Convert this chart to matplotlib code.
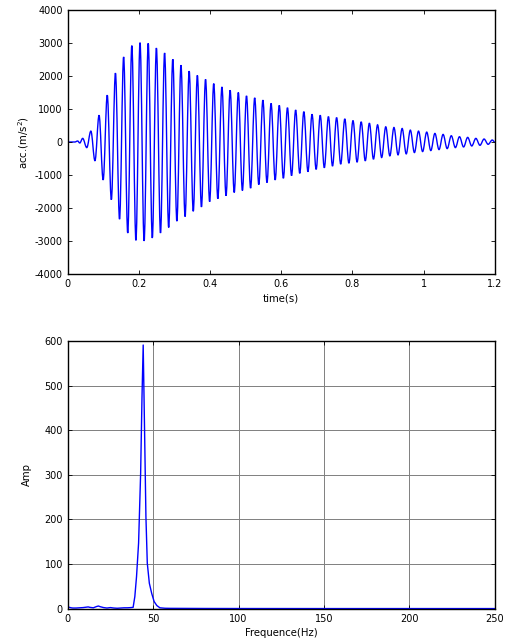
import numpy as np
import matplotlib
matplotlib.use("Agg")
import matplotlib.pyplot as plt
from matplotlib.path import Path
from matplotlib.patches import PathPatch

plt.rcParams['font.family'] = ['DejaVu Sans']
plt.rcParams['axes.unicode_minus'] = False

# ---------------- data: acceleration record (extrema) ----------------
onset_t = [0.0, 0.020, 0.028, 0.034]
onset_v = [0, 0, 30, -30]
first_peak_t = 0.0421      # time of first regular positive peak (s)
period = 0.02302           # oscillation period (s)
pos_peaks = [110, 330, 810, 1420, 2090, 2580, 2920, 3010, 2990, 2850, 2700, 2510,
             2330, 2150, 2020, 1900, 1770, 1670, 1570, 1500, 1400, 1340, 1270, 1170,
             1110, 1040, 970, 920, 840, 810, 770, 740, 700, 650, 610, 570, 520, 460,
             440, 410, 360, 330, 300, 260, 230, 190, 160, 140, 110, 90, 60]
neg_peaks = [-170, -570, -1150, -1750, -2340, -2760, -2980, -3000, -2910, -2760,
             -2590, -2400, -2260, -2100, -1970, -1810, -1720, -1630, -1530, -1470,
             -1400, -1290, -1230, -1150, -1100, -1020, -950, -900, -830, -780, -730,
             -670, -640, -610, -570, -520, -470, -420, -390, -360, -320, -290, -260,
             -230, -200, -170, -150, -120, -100, -70]
end_t = [1.2]
end_v = [0]

# ---------------- data: amplitude spectrum ----------------
freq = [0, 1, 2, 3, 5, 7, 9, 11, 12, 13, 15, 17, 18, 19, 21, 23, 25, 27, 29, 31, 33,
        35, 37, 38.3, 39.3, 40.3, 41.5, 42.7, 43.5, 44.2, 45.0, 45.8, 46.6, 47.8, 49.2,
        50.6, 52.2, 54, 57, 60, 80, 100, 150, 200, 250]
amp = [4, 3, 2, 1.5, 1.5, 2, 2.5, 3.5, 4, 3, 2, 5, 6, 4.5, 2.5, 1.5, 2.5, 1.5, 1, 1.5, 2,
       2, 2.5, 3, 27, 72, 147, 303, 475, 591, 400, 206, 102, 57, 34, 16, 7, 2, 1, 0.8,
       0.5, 0.4, 0.3, 0.3, 0.3]

# assemble the time series: alternating positive/negative extrema
ext_t, ext_v = [], []
for i, p in enumerate(pos_peaks):
    ext_t.append(first_peak_t + i * period)
    ext_v.append(p)
    if i < len(neg_peaks):
        ext_t.append(first_peak_t + (i + 0.5) * period)
        ext_v.append(neg_peaks[i])
t = onset_t + ext_t + end_t
a = onset_v + ext_v + end_v

# smooth line through the extrema: cubic Bezier segments with flat tangents at extrema
verts = [(t[0], a[0])]
codes = [Path.MOVETO]
for (t0, v0), (t1, v1) in zip(zip(t[:-1], a[:-1]), zip(t[1:], a[1:])):
    d = (t1 - t0) / 2.8
    verts += [(t0 + d, v0), (t1 - d, v1), (t1, v1)]
    codes += [Path.CURVE4] * 3

fig = plt.figure(figsize=(5.07, 6.39), dpi=100)
ax1 = fig.add_axes([67.7 / 507, 1 - 274 / 639, 427 / 507, 264 / 639])
ax2 = fig.add_axes([67.7 / 507, 1 - 608.7 / 639, 427 / 507, 267.7 / 639])

fs = 7.0
lfs = 7.3
for ax in (ax1, ax2):
    ax.tick_params(direction='in', top=True, right=True, length=3, width=0.6,
                   labelsize=fs, pad=3.5)
    for s in ax.spines.values():
        s.set_linewidth(1.0)

ax1.add_patch(PathPatch(Path(verts, codes), fill=False, edgecolor='#0000ff', lw=1.0))
ax1.set_xlim(0, 1.2)
ax1.set_ylim(-4000, 4000)
ax1.set_xticks([0, 0.2, 0.4, 0.6, 0.8, 1, 1.2])
ax1.set_xticklabels(['0', '0.2', '0.4', '0.6', '0.8', '1', '1.2'])
ax1.set_yticks(np.arange(-4000, 4001, 1000))
ax1.set_xlabel('time(s)', fontsize=lfs, labelpad=3)
ax1.set_ylabel('acc.(m/s$^2$)', fontsize=lfs, labelpad=3)

ax2.plot(freq, amp, color='#0000ff', lw=1.0)
ax2.set_xlim(0, 250)
ax2.set_ylim(0, 600)
ax2.set_xticks([0, 50, 100, 150, 200, 250])
ax2.set_yticks(np.arange(0, 601, 100))
ax2.grid(True, color='#7f7f7f', lw=0.7)
ax2.set_axisbelow(True)
ax2.set_xlabel('Frequence(Hz)', fontsize=lfs, labelpad=3)
ax2.set_ylabel('Amp', fontsize=lfs, labelpad=9)

fig.savefig('out.png', dpi=100)
